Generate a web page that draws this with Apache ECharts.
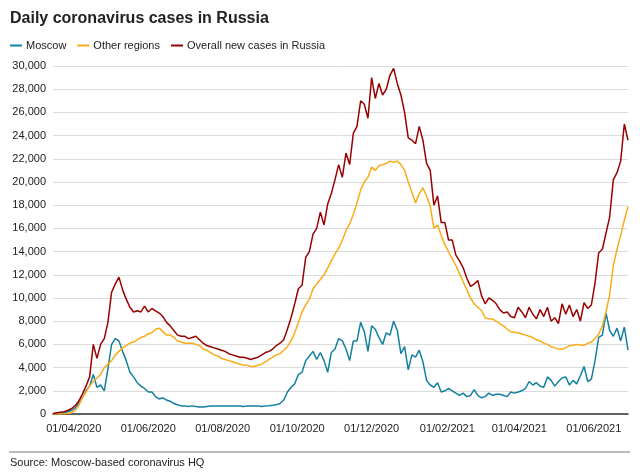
<!DOCTYPE html>
<html>
<head>
<meta charset="utf-8">
<script src="https://cdn.jsdelivr.net/npm/echarts@6/dist/echarts.min.js"></script>
<style>
  html, body { margin: 0; padding: 0; background: #fff; }
  #chart { width: 640px; height: 475px; }
</style>
</head>
<body>
<div id="chart"></div>
<script>
// X axis: one category per day
const firstDay = [2020, 2, 15];   // 15 March 2020
const lastDay = [2021, 5, 29];    // 29 June 2021
// Values are read from the picture once every SAMPLE_STEP days, starting on firstDay
const SAMPLE_STEP = 3;

const seriesNames = ['Moscow', 'Other regions', 'Overall new cases in Russia'];

const moscow = [
  0, 20, 50, 100, 200, 300, 500, 900, 1400, 2000, 2400, 3400, 2300, 2500, 2000, 3900,
  6000, 6500, 6300, 5400, 4600, 3600, 3200, 2700, 2400, 2200, 1900, 1900, 1500, 1300, 1400, 1200,
  1100, 900, 800, 700, 700, 650, 700, 650, 600, 600, 650, 680, 700, 700, 700, 680,
  700, 700, 700, 680, 650, 700, 700, 680, 700, 650, 700, 720, 750, 800, 900, 1200,
  1900, 2300, 2600, 3400, 3600, 4600, 5000, 5400, 4700, 5300, 4600, 3600, 5300, 5600, 6500, 6300,
  5600, 4600, 6300, 6300, 7900, 7100, 5400, 7600, 7300, 6600, 6000, 7000, 6800, 8000, 7200, 5200,
  5800, 3800, 5100, 4900, 5500, 4500, 2900, 2500, 2300, 2700, 1900, 2000, 2200, 2000, 1800, 1600,
  1800, 1500, 1600, 2100, 1600, 1400, 1500, 1800, 1600, 1700, 1700, 1600, 1500, 1900, 1800, 1900,
  2000, 2200, 2800, 2500, 2700, 2400, 2300, 3200, 2900, 2400, 2800, 3100, 3200, 2500, 2900, 2600,
  3300, 4100, 2800, 3000, 4600, 6600, 6800, 8700, 7200, 6700, 7400, 6300, 7500, 5500
];

const otherRegions = [
  0, 0, 10, 20, 40, 100, 300, 700, 1400, 1900, 2400, 2800, 3100, 3400, 4000, 4300,
  4600, 5100, 5400, 5700, 5900, 6100, 6200, 6400, 6600, 6700, 6900, 7000, 7300, 7400, 7100, 6800,
  6800, 6600, 6300, 6200, 6100, 6100, 6100, 6000, 5900, 5600, 5500, 5300, 5100, 5000, 4800, 4700,
  4600, 4500, 4400, 4300, 4200, 4200, 4100, 4100, 4200, 4300, 4500, 4700, 4900, 5100, 5200, 5500,
  5800, 6300, 7000, 7900, 8800, 9400, 9900, 10800, 11200, 11600, 12000, 12600, 13200, 13800, 14300, 15000,
  15800, 16400, 17200, 18200, 19300, 20000, 20400, 21300, 21000, 21400, 21500, 21600, 21800, 21700, 21800, 21500,
  21000, 20000, 19100, 18200, 19000, 19500, 18800, 17900, 16000, 16300, 15400, 14600, 14000, 13400, 12800, 12100,
  11400, 10700, 10000, 9500, 9200, 8900, 8300, 8200, 8200, 8000, 7800, 7600, 7300, 7100, 7050, 7000,
  6900, 6800, 6700, 6600, 6400, 6300, 6100, 6000, 5800, 5700, 5600, 5600, 5700, 5900, 5900, 6000,
  5950, 5900, 6100, 6200, 6500, 6900, 7600, 8800, 10300, 12800, 14200, 15400, 16700, 17900
];

const overall = [
  50, 100, 150, 200, 300, 450, 700, 1100, 1700, 2400, 3200, 6000, 4800, 6000, 6500, 7900,
  10500, 11200, 11800, 10700, 9900, 9200, 8800, 8900, 8800, 9300, 8800, 9100, 8900, 8700, 8400, 7900,
  7600, 7200, 6800, 6700, 6700, 6500, 6600, 6700, 6400, 6100, 5900, 5800, 5700, 5600, 5500, 5400,
  5200, 5100, 5000, 4900, 4900, 4800, 4700, 4800, 4900, 5100, 5300, 5400, 5600, 5900, 6100, 6400,
  7300, 8300, 9500, 10800, 11100, 13500, 14000, 15500, 16000, 17400, 16300, 18100, 19000, 20200, 21500, 20400,
  22500, 21500, 24200, 24800, 27000, 26700, 25500, 29000, 27200, 28500, 27500, 28000, 29200, 29800, 28500, 27500,
  26000, 23800, 23600, 23300, 24800, 23600, 21600, 21000, 18000, 18800, 16500, 16500, 15000, 15000, 13700, 13200,
  12600, 11700, 11000, 11200, 11500, 10200, 9500, 10000, 9800, 9500, 9000, 8700, 8800, 8400, 8300, 9200,
  8800, 8300, 9200, 8600, 8200, 9000, 8400, 9200, 8000, 8300, 7800, 9500, 8600, 9400, 8400, 9000,
  8000, 9600, 9100, 9400, 11300, 13900, 14200, 15600, 17000, 20200, 20800, 21800, 25000, 23600
];

const yTicks = { min: 0, max: 30000, interval: 2000 };
const colors = ['#1380A1', '#FAAB18', '#990000'];

// ---- build daily category axis ----
function pad(n) { return n < 10 ? '0' + n : '' + n; }
const categories = [];
for (let t = Date.UTC(firstDay[0], firstDay[1], firstDay[2]);
     t <= Date.UTC(lastDay[0], lastDay[1], lastDay[2]); t += 86400000) {
  const d = new Date(t);
  categories.push(pad(d.getUTCDate()) + '/' + pad(d.getUTCMonth() + 1) + '/' + d.getUTCFullYear());
}
function toPairs(values) { return values.map((v, i) => [i * SAMPLE_STEP, v]); }

const FONT = '"Liberation Sans", Arial, Helvetica, sans-serif';
const chart = echarts.init(document.getElementById('chart'), null, { renderer: 'canvas' });

const seriesValues = [moscow, otherRegions, overall];

chart.setOption({
  animation: false,
  backgroundColor: '#ffffff',
  title: {
    text: 'Daily coronavirus cases in Russia',
    left: 10, top: 11, padding: 0,
    textStyle: { fontFamily: FONT, fontSize: 16, fontWeight: 'bold', color: '#222222' }
  },
  legend: {
    left: 10, top: 40, padding: 0,
    icon: 'rect', itemWidth: 12, itemHeight: 2, itemGap: 11,
    textStyle: { fontFamily: FONT, fontSize: 11, color: '#222222', padding: [0, 0, 0, -1] },
    data: seriesNames
  },
  grid: { left: 53, right: 12, top: 66, bottom: 61, containLabel: false },
  xAxis: {
    type: 'category',
    data: categories,
    boundaryGap: false,
    axisLine: { show: true, lineStyle: { color: '#333333', width: 1.5 } },
    axisTick: { show: false },
    splitLine: { show: false },
    axisLabel: {
      fontFamily: FONT, fontSize: 11, color: '#222222', margin: 9,
      interval: function (idx, val) {
        const parts = val.split('/');
        return parts[0] === '01' && (+parts[1]) % 2 === 0;
      }
    }
  },
  yAxis: {
    type: 'value',
    min: yTicks.min, max: yTicks.max, interval: yTicks.interval,
    axisLine: { show: false },
    axisTick: { show: false },
    splitLine: { lineStyle: { color: '#dcdcdc', width: 1 } },
    axisLabel: {
      fontFamily: FONT, fontSize: 11, color: '#222222', margin: 7,
      formatter: v => v.toLocaleString('en-US')
    }
  },
  series: seriesValues.map((vals, i) => ({
    name: seriesNames[i],
    type: 'line',
    data: toPairs(vals),
    showSymbol: false,
    symbol: 'none',
    color: colors[i],
    lineStyle: { color: colors[i], width: 1.5 },
    z: 2 + i
  })),
  graphic: [
    { type: 'line', shape: { x1: 9, y1: 452, x2: 630, y2: 452 },
      style: { stroke: '#777777', lineWidth: 1 } },
    { type: 'text', left: 10, top: 457,
      style: { text: 'Source: Moscow-based coronavirus HQ', font: '11px ' + FONT, fill: '#222222' } }
  ]
});
</script>
</body>
</html>
